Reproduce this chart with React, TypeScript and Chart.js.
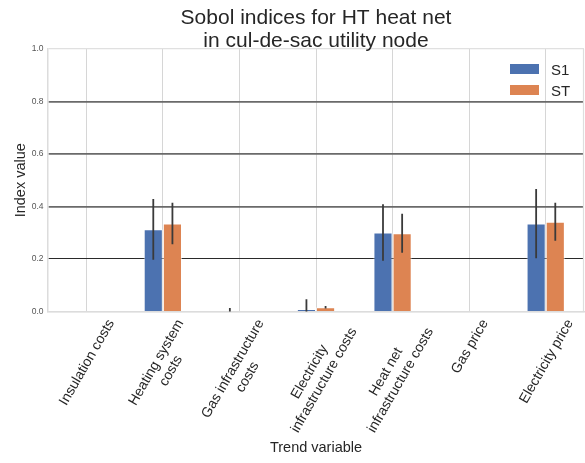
import React, { useEffect, useRef } from "react";
import { Chart, registerables } from "chart.js";

Chart.register(...registerables);

const FONT = '"Liberation Sans", Arial, Helvetica, sans-serif';

const titleLines = ["Sobol indices for HT heat net", "in cul-de-sac utility node"];
const categoryLines: string[][] = [
  ["Insulation costs"],
  ["Heating system", "costs"],
  ["Gas infrastructure", "costs"],
  ["Electricity", "infrastructure costs"],
  ["Heat net", "infrastructure costs"],
  ["Gas price"],
  ["Electricity price"],
];
const seriesNames = ["S1", "ST"];
const s1Values = [0, 0.313, 0.0, 0.009, 0.301, 0, 0.335];
const stValues = [0, 0.335, 0, 0.016, 0.298, 0, 0.342];
const s1Errors = [0, 0.116, 0.013, 0.038, 0.108, 0, 0.132];
const stErrors = [0, 0.079, 0, 0.005, 0.074, 0, 0.072];
const yTicks = [0, 0.2, 0.4, 0.6, 0.8, 1.0];
const xAxisTitle = "Trend variable";
const yAxisTitle = "Index value";

const COLORS = ["#4C72B0", "#DD8452"];
const TEXT = "#262626";

const customPlugin = {
  id: "custom",
  afterDatasetsDraw(chart: any) {
    const ctx = chart.ctx;
    const yScale = chart.scales.y;
    const area = chart.chartArea;
    const errs = [s1Errors, stErrors];
    ctx.save();
    ctx.beginPath();
    ctx.rect(area.left, area.top, area.right - area.left, area.bottom - area.top);
    ctx.clip();
    ctx.strokeStyle = "#3a3a3a";
    ctx.lineWidth = 1.8;
    chart.data.datasets.forEach((ds: any, di: number) => {
      const meta = chart.getDatasetMeta(di);
      meta.data.forEach((bar: any, i: number) => {
        const e = errs[di][i];
        if (!e) return;
        const v = ds.data[i];
        const yTop = yScale.getPixelForValue(v + e);
        const yBot = yScale.getPixelForValue(v - e);
        ctx.beginPath();
        ctx.moveTo(bar.x, yTop);
        ctx.lineTo(bar.x, yBot);
        ctx.stroke();
      });
    });
    ctx.restore();
  },
  afterDraw(chart: any) {
    const ctx = chart.ctx;
    const area = chart.chartArea;
    const xScale = chart.scales.x;
    const cx = (area.left + area.right) / 2;
    ctx.save();

    // right frame
    ctx.strokeStyle = "#dedede";
    ctx.lineWidth = 1.2;
    ctx.beginPath();
    ctx.moveTo(area.right - 0.5, area.top);
    ctx.lineTo(area.right - 0.5, area.bottom);
    ctx.stroke();

    // title
    ctx.fillStyle = TEXT;
    ctx.font = `21px ${FONT}`;
    ctx.textAlign = "center";
    ctx.textBaseline = "alphabetic";
    ctx.fillText(titleLines[0], cx, 23.5);
    ctx.fillText(titleLines[1], cx, 46.5);

    // legend
    const legX = 510;
    const legY = [64, 85];
    ctx.font = `15px ${FONT}`;
    ctx.textAlign = "left";
    seriesNames.forEach((name, i) => {
      ctx.fillStyle = COLORS[i];
      ctx.fillRect(legX, legY[i], 29, 10);
      ctx.fillStyle = TEXT;
      ctx.fillText(name, legX + 41, legY[i] + 10.5);
    });

    // x axis title
    ctx.font = `14.5px ${FONT}`;
    ctx.textAlign = "center";
    ctx.fillText(xAxisTitle, cx, 451.5);

    // y axis title
    ctx.save();
    ctx.translate(24.5, (area.top + area.bottom) / 2);
    ctx.rotate(-Math.PI / 2);
    ctx.fillText(yAxisTitle, 0, 0);
    ctx.restore();

    // x tick labels rotated 60°, matplotlib-like centered bbox
    const fs = 14;
    const lh = fs * 1.2;
    const ang = (60 * Math.PI) / 180;
    ctx.font = `${fs}px ${FONT}`;
    ctx.fillStyle = TEXT;
    categoryLines.forEach((lines, i) => {
      const tx = xScale.getPixelForValue(i);
      const W = Math.max(...lines.map((l) => ctx.measureText(l).width));
      const H = lines.length * lh;
      const bh = W * Math.sin(ang) + H * Math.cos(ang);
      const y0 = area.bottom + 4.5;
      ctx.save();
      ctx.translate(tx, y0 + bh / 2);
      ctx.rotate(-ang);
      ctx.textAlign = "center";
      ctx.textBaseline = "middle";
      lines.forEach((l, li) => {
        const ly = -H / 2 + lh * (li + 0.5);
        ctx.fillText(l, 0, ly + 1);
      });
      ctx.restore();
    });

    ctx.restore();
  },
};

export default function App() {
  const ref = useRef<HTMLCanvasElement | null>(null);
  useEffect(() => {
    if (!ref.current) return;
    const chart = new Chart(ref.current, {
      type: "bar",
      data: {
        labels: categoryLines.map((l) => l.join(" ")),
        datasets: [
          {
            label: seriesNames[0],
            data: s1Values,
            backgroundColor: COLORS[0],
            borderColor: "rgba(255,255,255,0.55)",
            borderWidth: 1,
            categoryPercentage: 0.5,
            barPercentage: 1.0,
          },
          {
            label: seriesNames[1],
            data: stValues,
            backgroundColor: COLORS[1],
            borderColor: "rgba(255,255,255,0.55)",
            borderWidth: 1,
            categoryPercentage: 0.5,
            barPercentage: 1.0,
          },
        ],
      },
      options: {
        responsive: false,
        animation: false,
        devicePixelRatio: 1,
        layout: { padding: { top: 49, right: 1, left: 0, bottom: 0 } },
        plugins: {
          legend: { display: false },
          title: { display: false },
          tooltip: { enabled: false },
        },
        scales: {
          x: {
            type: "category",
            offset: true,
            grid: {
              offset: false,
              color: "#d6d6d6",
              lineWidth: 1,
              drawTicks: false,
            },
            border: { display: true, color: "#dcdcdc", width: 1.5 },
            ticks: { display: false },
            afterFit(scale: any) {
              scale.height = 463 - 311.5;
            },
          },
          y: {
            min: 0,
            max: 1,
            afterBuildTicks(scale: any) {
              scale.ticks = yTicks.map((v) => ({ value: v }));
            },
            grid: {
              drawTicks: false,
              color: (c: any) => {
                const v = c.tick ? c.tick.value : 0;
                if (v <= 0.001 || v >= 0.999) return "#e0e0e0";
                if (Math.abs(v - 0.2) < 0.01) return "#2a2a2a";
                return "#6a6a6a";
              },
              lineWidth: (c: any) => {
                const v = c.tick ? c.tick.value : 0;
                if (v <= 0.001 || v >= 0.999) return 1.2;
                if (Math.abs(v - 0.2) < 0.01) return 1.1;
                return 1.8;
              },
            },
            border: { display: true, color: "#dcdcdc", width: 1.5 },
            ticks: {
              color: "#555555",
              padding: 4.5,
              font: { size: 8.5, family: FONT },
              callback: (v: any) => Number(v).toFixed(1),
            },
            afterFit(scale: any) {
              scale.width = 48;
            },
          },
        },
      },
      plugins: [customPlugin],
    });
    return () => chart.destroy();
  }, []);
  return (
    <div style={{ position: "absolute", left: 0, top: 0, width: 585, height: 463, background: "#fff" }}>
      <canvas ref={ref} width={585} height={463} style={{ width: 585, height: 463, display: "block" }} />
    </div>
  );
}
